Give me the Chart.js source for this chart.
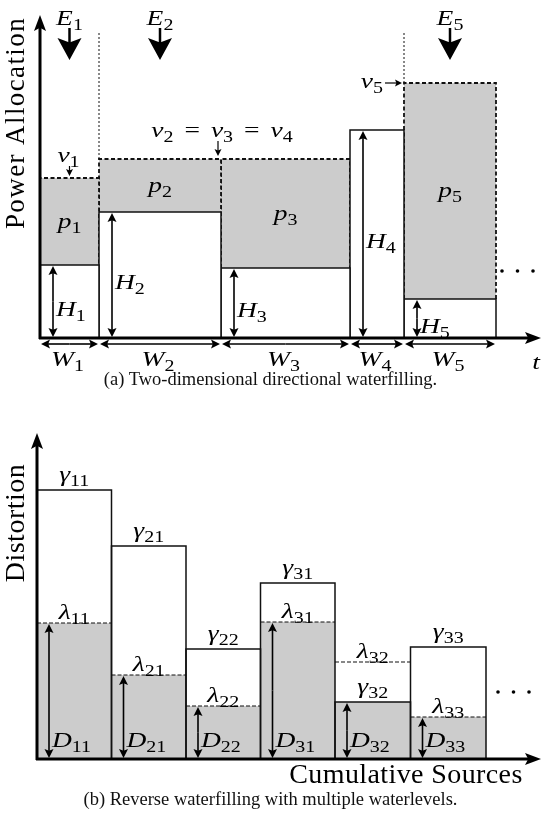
<!DOCTYPE html>
<html>
<head>
<meta charset="utf-8">
<script src="https://cdn.jsdelivr.net/npm/chart.js@4.4.1/dist/chart.umd.min.js"></script>
<style>
  body { margin: 0; background: #fff; width: 541px; height: 831px; position: relative; overflow: hidden; font-family: "Liberation Serif", serif; }
  canvas { position: absolute; left: 0; }
  .legenda { position: absolute; left: 0; width: 541px; text-align: center; font-size: 18.5px; color: #111; }
</style>
</head>
<body>
<canvas id="grafico-potencia" width="541" height="400" style="top:0"></canvas>
<div class="legenda" style="top:369px">(a) Two-dimensional directional waterfilling.</div>
<canvas id="grafico-distorcao" width="541" height="431" style="top:400px"></canvas>
<div class="legenda" style="top:789px">(b) Reverse waterfilling with multiple waterlevels.</div>

<script>
// (a) waterfilling direcional
const larguras = [59, 122, 129, 54, 92];      // W1..W5
const alturas = [73, 126, 70, 208, 39];       // H1..H5
const niveis = [160, 179, 179, 179, 255];     // nu1..nu5
const blocos = ['1', '2', '3', '4', '5'];
const chegadas = [0, 1, 4];                   // blocos com E1, E2, E5

// (b) waterfilling reverso
const fontes = ['11', '21', '22', '31', '32', '33'];
const largurasFonte = [74.5, 74.5, 74.5, 74.5, 75.5, 75.5];
const gamas = [269, 213, 110, 176, 57, 112];
const lambdas = [136, 84, 53, 137, 97, 42];

const CINZA = '#cccccc';
const FONTE = '"Liberation Serif", "Times New Roman", serif';
const ESTICA = 1.25; // letras matematicas mais largas, tipo Computer Modern

function acumular(ws) {
  const xs = [0];
  ws.forEach(w => xs.push(xs[xs.length - 1] + w));
  return xs;
}

function linha(pontos, extra) {
  return Object.assign({
    data: pontos,
    borderColor: '#111',
    borderWidth: 1.5,
    pointRadius: 0,
    tension: 0,
    fill: false,
    borderJoinStyle: 'miter'
  }, extra);
}

function seta(ctx, x0, y0, x1, y1, comp, larg) {
  const a = Math.atan2(y1 - y0, x1 - x0);
  const c = Math.cos(a), s = Math.sin(a);
  ctx.beginPath();
  ctx.moveTo(x0, y0);
  ctx.lineTo(x1 - c * comp * 0.7, y1 - s * comp * 0.7);
  ctx.stroke();
  ctx.beginPath();
  ctx.moveTo(x1, y1);
  ctx.lineTo(x1 - c * comp - s * larg / 2, y1 - s * comp + c * larg / 2);
  ctx.lineTo(x1 - c * comp * 0.8, y1 - s * comp * 0.8);
  ctx.lineTo(x1 - c * comp + s * larg / 2, y1 - s * comp - c * larg / 2);
  ctx.closePath();
  ctx.fill();
}

function setaDupla(ctx, x0, y0, x1, y1, comp, larg) {
  const mx = (x0 + x1) / 2, my = (y0 + y1) / 2;
  seta(ctx, mx, my, x0, y0, comp, larg);
  seta(ctx, mx, my, x1, y1, comp, larg);
}

// texto matematico: [texto, 'i' italico | 's' subscrito | 'r' normal | 'g' espaco]
function mat(ctx, partes, x, y, alinhar) {
  const f = { i: 'italic 22px ' + FONTE, s: '16px ' + FONTE, r: '22px ' + FONTE };
  const larg = p => {
    if (p[1] === 'g') return p[0];
    ctx.font = f[p[1]];
    return ctx.measureText(p[0]).width * ESTICA;
  };
  let total = 0;
  partes.forEach(p => { total += larg(p); });
  let cx = alinhar === 'left' ? x : (alinhar === 'right' ? x - total : x - total / 2);
  ctx.textAlign = 'left';
  ctx.textBaseline = 'alphabetic';
  partes.forEach(p => {
    const w = larg(p);
    if (p[1] !== 'g') {
      ctx.save();
      ctx.translate(cx, p[1] === 's' ? y + 5 : y);
      ctx.scale(ESTICA, 1);
      ctx.fillText(p[0], 0, 0);
      ctx.restore();
    }
    cx += w;
  });
}

function texto(ctx, t, x, y, tam, ang, esp) {
  ctx.save();
  ctx.translate(x, y);
  ctx.rotate(ang || 0);
  ctx.font = tam + 'px ' + FONTE;
  ctx.letterSpacing = (esp || 0) + 'px';
  ctx.textAlign = 'center';
  ctx.textBaseline = 'middle';
  ctx.fillText(t, 0, 0);
  ctx.restore();
}

function eixos(ctx, area) {
  ctx.save();
  ctx.strokeStyle = '#000';
  ctx.fillStyle = '#000';
  ctx.lineWidth = 3;
  seta(ctx, area.left, area.bottom + 1, area.left, area.top, 16, 12);
  seta(ctx, area.left - 1, area.bottom, area.right + 1, area.bottom, 16, 12);
  ctx.restore();
}

function pontinhos(ctx, x, y) {
  ctx.fillStyle = '#000';
  [0, 15.5, 31].forEach(d => {
    ctx.beginPath();
    ctx.arc(x + d, y, 1.8, 0, Math.PI * 2);
    ctx.fill();
  });
}

// ---------- grafico (a) ----------
const xsA = acumular(larguras);
const dadosA = [];
larguras.forEach((w, i) => {
  const x0 = xsA[i], x1 = xsA[i + 1];
  dadosA.push(linha([{ x: x0, y: 0 }, { x: x0, y: alturas[i] }, { x: x1, y: alturas[i] }, { x: x1, y: 0 }],
    { fill: 'origin', backgroundColor: '#fff', order: 1 }));
  if (niveis[i] > alturas[i]) {
    dadosA.push(linha([{ x: x0, y: alturas[i] }, { x: x0, y: niveis[i] }, { x: x1, y: niveis[i] }, { x: x1, y: alturas[i] }],
      { fill: 'origin', backgroundColor: CINZA, borderDash: [4, 2.5], borderWidth: 1.8, order: 2 }));
  }
});
chegadas.slice(1).forEach(i => {
  dadosA.push(linha([{ x: xsA[i], y: niveis[i] }, { x: xsA[i], y: 306 }],
    { borderDash: [2, 2], borderWidth: 1, order: 0 }));
});

const anotacoesA = {
  id: 'anotacoesA',
  afterDraw(chart) {
    const ctx = chart.ctx, area = chart.chartArea;
    const sx = chart.scales.x, sy = chart.scales.y;
    ctx.save();
    ctx.fillStyle = '#000';
    ctx.strokeStyle = '#000';
    eixos(ctx, area);

    blocos.forEach((b, i) => {
      const x0 = sx.getPixelForValue(xsA[i]), x1 = sx.getPixelForValue(xsA[i + 1]);
      const cx = (x0 + x1) / 2;
      const yH = sy.getPixelForValue(alturas[i]), yN = sy.getPixelForValue(niveis[i]);
      // larguras
      ctx.lineWidth = 1.6;
      setaDupla(ctx, x0 + 1, area.bottom + 6, x1 - 1, area.bottom + 6, 9, 9);
      mat(ctx, [['W', 'i'], [b, 's']], cx - 2, area.bottom + 28);
      // alturas
      const xa = x0 + 13;
      setaDupla(ctx, xa, area.bottom - 1, xa, yH + 1, 9, 9);
      mat(ctx, [['H', 'i'], [b, 's']], xa + 3, (yH + area.bottom) / 2 + 14, 'left');
      // potencia
      if (niveis[i] > alturas[i]) {
        mat(ctx, [['p', 'i'], [b, 's']], cx, (yH + yN) / 2 + 6);
      }
    });

    // energia que chega
    chegadas.forEach(i => {
      const cx = (sx.getPixelForValue(xsA[i]) + sx.getPixelForValue(xsA[i + 1])) / 2;
      mat(ctx, [['E', 'i'], [blocos[i], 's']], cx, 25);
      ctx.lineWidth = 2.5;
      seta(ctx, cx, 28, cx, 60, 22, 24);
    });

    // niveis de agua
    ctx.lineWidth = 1.2;
    const n1x = (sx.getPixelForValue(xsA[0]) + sx.getPixelForValue(xsA[1])) / 2;
    const n1y = sy.getPixelForValue(niveis[0]);
    mat(ctx, [['ν', 'i'], ['1', 's']], n1x - 1, n1y - 16);
    seta(ctx, n1x, n1y - 12, n1x, n1y - 2, 7, 7);

    const n2x = sx.getPixelForValue(xsA[2]);
    const n2y = sy.getPixelForValue(niveis[1]);
    mat(ctx, [['ν', 'i'], ['2', 's'], [11, 'g'], ['=', 'r'], [11, 'g'], ['ν', 'i'], ['3', 's'], [11, 'g'], ['=', 'r'], [11, 'g'], ['ν', 'i'], ['4', 's']], n2x + 1, n2y - 22);
    seta(ctx, n2x - 3, n2y - 18, n2x - 3, n2y - 3, 7, 7);

    const n5x = sx.getPixelForValue(xsA[4]);
    const n5y = sy.getPixelForValue(niveis[4]);
    mat(ctx, [['ν', 'i'], ['5', 's']], n5x - 21, n5y + 5, 'right');
    seta(ctx, n5x - 19, n5y, n5x - 2, n5y, 7, 7);

    mat(ctx, [['t', 'i']], area.right - 4, area.bottom + 31);
    pontinhos(ctx, sx.getPixelForValue(xsA[5]) + 6, sy.getPixelForValue(67));
    texto(ctx, 'Power Allocation', 17, 123, 27, -Math.PI / 2, 1.4);
    ctx.restore();
  }
};

function opcoes(pad, xmax, ymax) {
  return {
    responsive: false,
    animation: false,
    layout: { padding: pad },
    plugins: { legend: { display: false }, tooltip: { enabled: false } },
    scales: {
      x: { type: 'linear', min: 0, max: xmax, display: false },
      y: { type: 'linear', min: 0, max: ymax, display: false }
    }
  };
}

new Chart(document.getElementById('grafico-potencia').getContext('2d'), {
  type: 'line',
  data: { datasets: dadosA },
  options: opcoes({ left: 40, right: 1, top: 15, bottom: 62 }, 500, 323),
  plugins: [anotacoesA]
});

// ---------- grafico (b) ----------
const xsB = acumular(largurasFonte);
const dadosB = [];
fontes.forEach((f, i) => {
  const x0 = xsB[i], x1 = xsB[i + 1];
  const d = Math.min(gamas[i], lambdas[i]);
  dadosB.push(linha([{ x: x0, y: 0 }, { x: x0, y: gamas[i] }, { x: x1, y: gamas[i] }, { x: x1, y: 0 }],
    { order: 0 }));
  dadosB.push(linha([{ x: x0, y: d }, { x: x1, y: d }],
    { fill: 'origin', backgroundColor: CINZA, borderWidth: lambdas[i] < gamas[i] ? 1.2 : 0, borderDash: [4, 2], order: 1 }));
  if (lambdas[i] > gamas[i]) {
    dadosB.push(linha([{ x: x0, y: lambdas[i] }, { x: x1, y: lambdas[i] }],
      { borderWidth: 1.2, borderDash: [4, 2], order: 1 }));
  }
});

const anotacoesB = {
  id: 'anotacoesB',
  afterDraw(chart) {
    const ctx = chart.ctx, area = chart.chartArea;
    const sx = chart.scales.x, sy = chart.scales.y;
    ctx.save();
    ctx.fillStyle = '#000';
    ctx.strokeStyle = '#000';
    eixos(ctx, area);
    fontes.forEach((f, i) => {
      const x0 = sx.getPixelForValue(xsB[i]), x1 = sx.getPixelForValue(xsB[i + 1]);
      const cx = (x0 + x1) / 2;
      const yG = sy.getPixelForValue(gamas[i]), yL = sy.getPixelForValue(lambdas[i]);
      const yD = sy.getPixelForValue(Math.min(gamas[i], lambdas[i]));
      mat(ctx, [['γ', 'i'], [f, 's']], cx, yG - 9);
      mat(ctx, [['λ', 'i'], [f, 's']], cx, yL - 4);
      ctx.lineWidth = 1.6;
      const xa = x0 + 12;
      setaDupla(ctx, xa, area.bottom - 1, xa, yD + 1, 9, 9);
      mat(ctx, [['D', 'i'], [f, 's']], xa + 3, area.bottom - 12, 'left');
    });
    pontinhos(ctx, sx.getPixelForValue(xsB[6]) + 12, sy.getPixelForValue(67));
    texto(ctx, 'Cumulative Sources', 406, 376, 28, 0, 0.4);
    texto(ctx, 'Distortion', 17, 123, 28, -Math.PI / 2, 0.5);
    ctx.restore();
  }
};

new Chart(document.getElementById('grafico-distorcao').getContext('2d'), {
  type: 'line',
  data: { datasets: dadosB },
  options: opcoes({ left: 37, right: 1, top: 33, bottom: 72 }, 503, 326),
  plugins: [anotacoesB]
});
</script>
</body>
</html>
